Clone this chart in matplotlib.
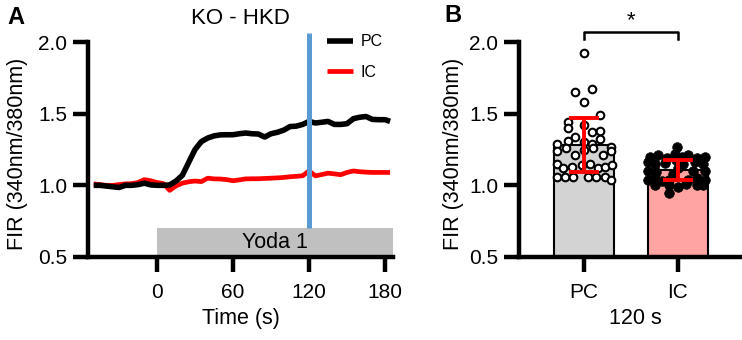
import matplotlib
matplotlib.use('Agg')
import matplotlib.pyplot as plt
from matplotlib.patches import Rectangle
from matplotlib.ticker import FormatStrFormatter

plt.rcParams['font.family'] = ['Liberation Sans', 'DejaVu Sans']

# ---------------- Panel A data ----------------
time_s = [-50, -45, -40, -35, -30, -25, -20, -15, -10, -5, 0, 5, 10, 15, 20, 25,
          30, 35, 40, 45, 50, 55, 60, 65, 70, 75, 80, 85, 90, 95, 100, 105, 110,
          115, 120, 125, 130, 135, 140, 145, 150, 155, 160, 165, 170, 175, 180, 184]
pc_trace = [1.00, 1.00, 0.995, 0.99, 0.985, 1.00, 1.00, 1.005, 1.015, 1.003, 1.00,
            1.00, 1.003, 1.03, 1.07, 1.16, 1.25, 1.305, 1.33, 1.345, 1.352, 1.353,
            1.353, 1.36, 1.365, 1.36, 1.358, 1.337, 1.36, 1.37, 1.385, 1.41, 1.413,
            1.425, 1.446, 1.435, 1.44, 1.446, 1.425, 1.425, 1.43, 1.465, 1.475,
            1.48, 1.46, 1.458, 1.458, 1.446]
ic_trace = [1.01, 1.005, 1.00, 1.00, 1.005, 1.01, 1.012, 1.02, 1.04, 1.032, 1.02,
            1.012, 0.965, 0.996, 1.015, 1.025, 1.03, 1.026, 1.05, 1.045, 1.044,
            1.04, 1.032, 1.038, 1.045, 1.046, 1.046, 1.048, 1.05, 1.052, 1.055,
            1.06, 1.063, 1.067, 1.101, 1.066, 1.075, 1.085, 1.08, 1.074, 1.09,
            1.10, 1.095, 1.092, 1.09, 1.09, 1.09, 1.09]
trace_labels = ['PC', 'IC']
stim_label = 'Yoda 1'
stim_start = 0
marker_time = 120
panel_a_title = 'KO - HKD'

# ---------------- Panel B data ----------------
bar_categories = ['PC', 'IC']
bar_means = [1.28, 1.11]
bar_sds = [0.19, 0.07]
pc_points = [1.92, 1.65, 1.67, 1.58, 1.49, 1.44, 1.40, 1.42, 1.37, 1.38, 1.34,
             1.29, 1.31, 1.30, 1.29, 1.32, 1.27, 1.24, 1.26, 1.21, 1.25, 1.26,
             1.21, 1.24, 1.15, 1.12, 1.13, 1.14, 1.15, 1.12, 1.13, 1.14, 1.06,
             1.06, 1.06, 1.06, 1.06, 1.06, 1.04]
pc_jitter = [0.0, -0.09, 0.09, 0.0, 0.17, -0.17, -0.17, 0.0, 0.09, 0.17, -0.09,
             -0.29, -0.17, 0.0, 0.09, 0.17, 0.29, -0.29, -0.19, -0.09, 0.0, 0.10,
             0.20, 0.29, -0.29, -0.22, -0.13, -0.02, 0.06, 0.15, 0.22, 0.30, -0.29,
             -0.20, -0.12, 0.04, 0.13, 0.22, 0.29]
ic_points = [1.27, 1.20, 1.21, 1.19, 1.22, 1.20, 1.21, 1.19, 1.20, 1.16, 1.15,
             1.155, 1.16, 1.15, 1.10, 1.09, 1.10, 1.10, 1.04, 1.05, 1.03, 1.04,
             1.04, 1.05, 1.04, 1.00, 1.00, 0.99, 1.01, 1.00, 1.00, 0.945, 1.12,
             1.08, 1.15, 1.18]
ic_jitter = [-0.01, -0.30, -0.21, -0.12, -0.03, 0.04, 0.11, 0.20, 0.29, -0.32,
             -0.24, -0.14, 0.18, 0.27, -0.32, -0.23, 0.16, 0.29, -0.32, -0.24,
             -0.17, -0.10, 0.11, 0.20, 0.29, -0.24, -0.10, 0.0, 0.09, 0.20, 0.27,
             -0.10, 0.0, -0.05, 0.05, -0.02]
bar_xlabel = '120 s'
sig_label = '*'

ylabel = 'FIR (340nm/380nm)'
yticks = [0.5, 1.0, 1.5, 2.0]

W, H = 742, 340
fig = plt.figure(figsize=(W / 100, H / 100), dpi=100)

def style_axis(ax):
    for s in ['top', 'right']:
        ax.spines[s].set_visible(False)
    for s in ['left', 'bottom']:
        ax.spines[s].set_linewidth(3.2)
    ax.tick_params(width=3.2, length=11, labelsize=15)
    ax.tick_params(axis='y', pad=4)
    ax.tick_params(axis='x', pad=8)
    ax.set_ylim(0.5, 2.0)
    ax.set_yticks(yticks)
    ax.yaxis.set_major_formatter(FormatStrFormatter('%.1f'))

# ---------------- Panel A ----------------
axA = fig.add_axes([88 / W, 1 - 257 / H, 305 / W, 215 / H])
style_axis(axA)
xmin, xmax = -54.5, 186.3
axA.set_xlim(xmin, xmax)
axA.set_xticks([0, 60, 120, 180])
axA.add_patch(Rectangle((stim_start, 0.5), xmax - stim_start, 0.2,
                        facecolor='#C0C0C0', edgecolor='none', zorder=1,
                        clip_on=False))
axA.text((stim_start + xmax) / 2, 0.6, stim_label, ha='center', va='center',
         fontsize=15.5, zorder=2)
axA.plot(time_s, ic_trace, color='#FF0000', lw=3.4, label=trace_labels[1],
         zorder=3, solid_capstyle='butt')
axA.plot(time_s, pc_trace, color='black', lw=4.0, label=trace_labels[0],
         zorder=4, solid_capstyle='butt')
axA.plot([marker_time, marker_time], [0.7, 2.06], color='#5B9BD5', lw=3.6,
         zorder=5, clip_on=False, solid_capstyle='butt')
h, l = axA.get_legend_handles_labels()
axA.legend(h[::-1], l[::-1], loc='upper left', bbox_to_anchor=(0.785, 1.035),
           frameon=False, fontsize=11.5, handlelength=1.6, handletextpad=0.5,
           labelspacing=0.95, borderpad=0, borderaxespad=0)
axA.set_ylabel(ylabel, fontsize=15.5)
axA.yaxis.set_label_coords((28 - 88) / 305, 0.48)
axA.set_xlabel('Time (s)', fontsize=15.5)
axA.xaxis.set_label_coords(0.5, -0.235)
fig.text(240 / W, 1 - 18 / H, panel_a_title, ha='center', va='center',
         fontsize=16)
fig.text(16 / W, 1 - 17 / H, 'A', ha='center', va='center', fontsize=17,
         fontweight='bold')

# ---------------- Panel B ----------------
axB = fig.add_axes([519 / W, 1 - 257 / H, 222 / W, 215 / H])
style_axis(axB)
xpos = list(range(len(bar_categories)))
axB.set_xlim(-0.69, 1.67)
axB.bar(xpos, bar_means, width=0.64, color=['#D3D3D3', '#FFA3A3'],
        edgecolor='black', linewidth=1.5, zorder=1)
axB.scatter([xpos[0] + j for j in pc_jitter], pc_points, s=30, facecolor='white',
            edgecolor='black', linewidth=1.5, zorder=3)
axB.scatter([xpos[1] + j for j in ic_jitter], ic_points, s=48, facecolor='black',
            edgecolor='black', linewidth=0.5, zorder=3)
axB.errorbar(xpos, bar_means, yerr=bar_sds, fmt='none', ecolor='#FF0000',
             elinewidth=2.8, capsize=10.8, capthick=2.8, zorder=4)
axB.set_xticks(xpos)
axB.set_xticklabels(bar_categories)
axB.plot([xpos[0], xpos[0], xpos[1], xpos[1]], [2.02, 2.07, 2.07, 2.02],
         color='black', lw=1.8, clip_on=False)
axB.text((xpos[0] + xpos[1]) / 2, 2.11, sig_label, ha='center', va='baseline',
         fontsize=16)
axB.set_ylabel(ylabel, fontsize=15.5)
axB.yaxis.set_label_coords((464 - 519) / 222, 0.48)
axB.set_xlabel(bar_xlabel, fontsize=15.5)
axB.xaxis.set_label_coords((635 - 519) / 222, -0.235)
fig.text(453 / W, 1 - 16 / H, 'B', ha='center', va='center', fontsize=17,
         fontweight='bold')

fig.savefig('out.png', dpi=100)
